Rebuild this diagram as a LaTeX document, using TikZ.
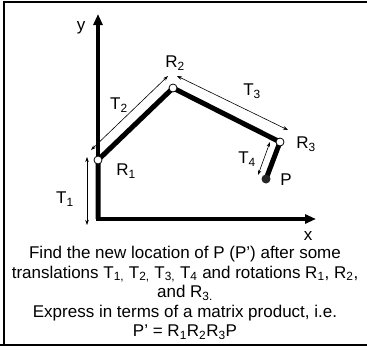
\documentclass[tikz,border=0pt]{standalone}
\usepackage{fontspec}
\setmainfont{Liberation Sans}
\usetikzlibrary{arrows.meta}

\tikzset{
  axis/.style={line width=3.5pt,-{Triangle[length=11pt,width=9pt]}},
  arm/.style={line width=5pt,line join=round},
  joint/.style={circle,draw,fill=white,line width=0.8pt,inner sep=0pt,minimum size=8pt},
  tip/.style={circle,fill=black!85,inner sep=0pt,minimum size=9pt},
  shift arrow/.style={line width=0.6pt,{Stealth[length=5pt,width=3.5pt]}-{Stealth[length=5pt,width=3.5pt]}},
  frameline/.style={line width=1.5pt}
}

\begin{document}
\begin{tikzpicture}[x=1pt,y=-1pt,font=\fontsize{17}{19.5}\selectfont]
    \useasboundingbox (0,0) rectangle (367,349);
    % frame (open on the right)
    \draw[frameline] (367,2) -- (4,2) -- (4,345);
    \draw[frameline] (0,345) -- (367,345);

    \coordinate (o) at (98,219);
    \coordinate (r1) at (98,160);
    \coordinate (r2) at (173,88);
    \coordinate (r3) at (280,142);
    \coordinate (p) at (266,179);
    \coordinate (ytop) at (98,14);
    \coordinate (xend) at (316,219);

    \begin{scope}
    \draw[axis] (98,221) -- (ytop);
    \draw[axis] (96.3,219) -- (xend);
    \node (ylab) at (81,28) {y};
    \node (xlab) at (308,236) {x};
    \end{scope}

    \draw[arm] (o) -- (r1) -- (r2) -- (r3) -- (p);
    \node[joint] (j1) at (r1) {};
    \node[joint] (j2) at (r2) {};
    \node[joint] (j3) at (r3) {};
    \node[tip] (pt) at (p) {};

    \begin{scope}
    \coordinate (t1a) at (87,157);
    \coordinate (t1b) at (87,225);
    \coordinate (t2a) at (91,150);
    \coordinate (t2b) at (168,76);
    \coordinate (t3a) at (177,76);
    \coordinate (t3b) at (288,130);
    \coordinate (t4a) at (270,142);
    \coordinate (t4b) at (258,175);
    \draw[shift arrow] (t1a) -- (t1b);
    \draw[shift arrow] (t2a) -- (t2b);
    \draw[shift arrow] (t3a) -- (t3b);
    \draw[shift arrow] (t4a) -- (t4b);
    \node (t1lab) at (65,199) {T\textsubscript{1}};
    \node (t2lab) at (119,105) {T\textsubscript{2}};
    \node (t3lab) at (252,91) {T\textsubscript{3}};
    \node (t4lab) at (247,159) {T\textsubscript{4}};
    \node (r1lab) at (126,171) {R\textsubscript{1}};
    \node (r2lab) at (175,63) {R\textsubscript{2}};
    \node (r3lab) at (306,144) {R\textsubscript{3}};
    \node (plab) at (286,180) {P};
    \end{scope}

    \node[align=center,inner sep=0pt] (task) at (185,293) {Find the new location of P (P') after some\\
      translations T\textsubscript{1,} T\textsubscript{2,} T\textsubscript{3,} T\textsubscript{4} and rotations R\textsubscript{1}, R\textsubscript{2},\\
      and R\textsubscript{3.}\\
      Express in terms of a matrix product, i.e.\\
      P' = R\textsubscript{1}R\textsubscript{2}R\textsubscript{3}P};
\end{tikzpicture}
\end{document}
